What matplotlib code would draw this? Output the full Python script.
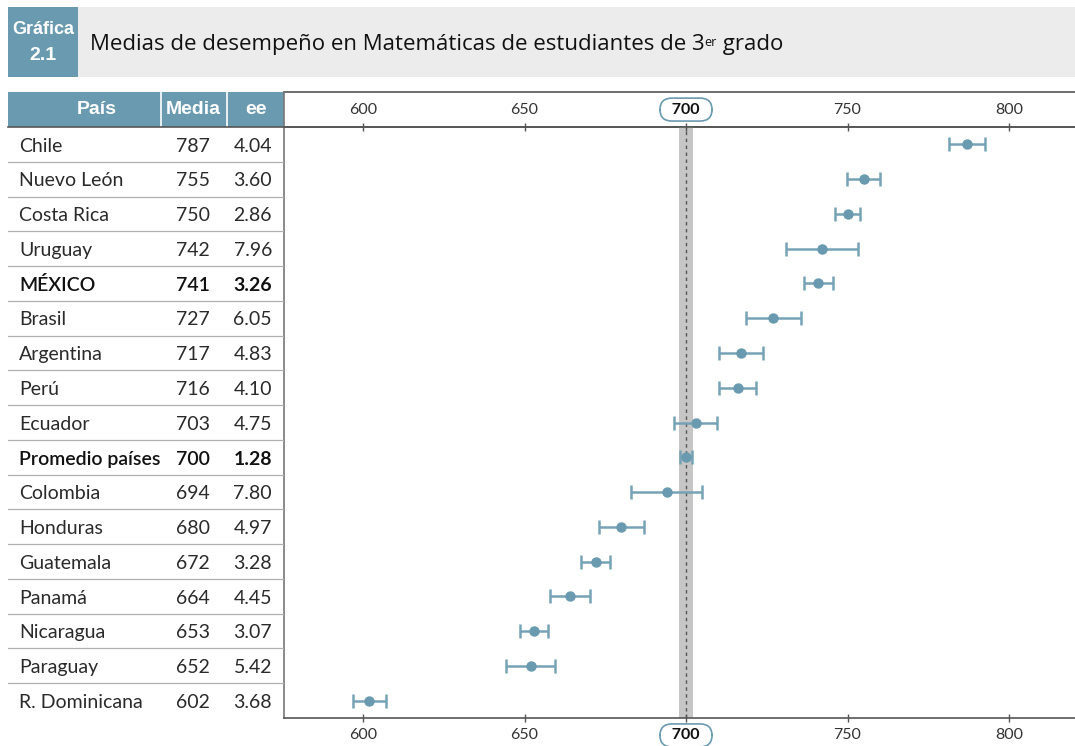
import matplotlib
matplotlib.use("Agg")
import matplotlib.pyplot as plt
from matplotlib.patches import Rectangle
import numpy as np

# data
paises = ["Chile", "Nuevo León", "Costa Rica", "Uruguay", "MÉXICO", "Brasil",
          "Argentina", "Perú", "Ecuador", "Promedio países", "Colombia",
          "Honduras", "Guatemala", "Panamá", "Nicaragua", "Paraguay",
          "R. Dominicana"]
medias = [787, 755, 750, 742, 741, 727, 717, 716, 703, 700, 694, 680, 672,
          664, 653, 652, 602]
ee = [4.04, 3.60, 2.86, 7.96, 3.26, 6.05, 4.83, 4.10, 4.75, 1.28, 7.80,
      4.97, 3.28, 4.45, 3.07, 5.42, 3.68]
bold_rows = ["MÉXICO", "Promedio países"]
ticks = [600, 650, 700, 750, 800]
ref_value = 700
ref_band = (697.8, 702.2)
ci_factor = 1.4  # error bars drawn in the chart are about +-1.4 ee

BLUE = "#6a9ab0"
W, H = 1075, 746
TXT_FONT = ["Lato", "DejaVu Sans"]
HEAD_FONT = ["Liberation Sans", "DejaVu Sans"]
TITLE_FONT = ["Open Sans", "DejaVu Sans"]

fig = plt.figure(figsize=(W / 100, H / 100), dpi=100)

# overlay in pixel coords for header decorations
over = fig.add_axes([0, 0, 1, 1], zorder=0)
over.set_xlim(0, W)
over.set_ylim(H, 0)
over.axis("off")

over.add_patch(Rectangle((8, 7), W - 8, 70, color="#ececec", lw=0))
over.add_patch(Rectangle((8, 7), 70, 70, color=BLUE, lw=0))
over.text(43, 29, "Gráfica", color="white", fontsize=13, fontweight="bold",
          family=HEAD_FONT, ha="center", va="center")
over.text(43, 55, "2.1", color="white", fontsize=14, fontweight="bold",
          family=HEAD_FONT, ha="center", va="center")

t1 = over.text(90, 55, "Medias de desempeño en Matemáticas de estudiantes de 3",
               fontsize=16, family=TITLE_FONT, va="bottom", ha="left", color="#111")
t2 = over.annotate("er", xy=(1, 0.9), xycoords=t1, fontsize=9, family=TITLE_FONT,
                   va="top", ha="left", color="#111")
over.annotate(" grado", xy=(1, 0), xycoords=(t2, t1), fontsize=16, family=TITLE_FONT,
              va="bottom", ha="left", color="#111")

# table header
over.add_patch(Rectangle((8, 92), 276, 35, color=BLUE, lw=0))
for xs in (161, 227):
    over.plot([xs, xs], [92, 127], color="white", lw=1.2)
for label, xc in [("País", 97), ("Media", 193), ("ee", 256)]:
    over.text(xc, 110, label, color="white", fontsize=14, fontweight="bold",
              family=HEAD_FONT, ha="center", va="center")
over.plot([284, W], [92, 92], color="#555555", lw=1.2)
over.plot([8, W], [127, 127], color="#555555", lw=1.2)
over.plot([284, 284], [92, 718], color="#777777", lw=1.2)

n = len(paises)
rows = np.arange(n)
top_px, bot_px = 127, 718
ax_rect_y = (H - bot_px) / H
ax_rect_h = (bot_px - top_px) / H

# table axes
tab = fig.add_axes([8 / W, ax_rect_y, 276 / W, ax_rect_h], zorder=1)
tab.set_xlim(0, 276)
tab.set_ylim(n - 0.5, -0.5)
tab.axis("off")
for i in range(n - 1):
    tab.axhline(i + 0.5, color="#b0b0b0", lw=0.9)
for i, (p, m, e) in enumerate(zip(paises, medias, ee)):
    strong = p in bold_rows
    w = "semibold" if strong else "normal"
    col = "#111111" if strong else "#2a2a2a"
    tab.text(11, i + 0.05, p, fontsize=14, family=TXT_FONT, fontweight=w,
             va="center", ha="left", color=col)
    tab.text(202, i + 0.05, f"{m}", fontsize=14, family=TXT_FONT, fontweight=w,
             va="center", ha="right", color=col)
    tab.text(264, i + 0.05, f"{e:.2f}", fontsize=14, family=TXT_FONT,
             fontweight="bold" if strong else "normal",
             va="center", ha="right", color=col)

# plot axes
px600, px800 = 363, 1009
scale = (px800 - px600) / (ticks[-1] - ticks[0])
x0 = ticks[0] - (px600 - 284) / scale
x1 = ticks[0] + (W - px600) / scale
ax = fig.add_axes([284 / W, ax_rect_y, (W - 284) / W, ax_rect_h], zorder=2)
ax.patch.set_alpha(0)
ax.set_xlim(x0, x1)
ax.set_ylim(n - 0.5, -0.5)

ax.axvspan(ref_band[0], ref_band[1], color="#c6c6c6", lw=0, zorder=1)
ax.axvline(ref_value, color="#555555", lw=1, ls=(0, (2.5, 2.5)), zorder=2)

err = np.array(ee) * ci_factor
ax.errorbar(medias, rows, xerr=err, fmt="o", color=BLUE, ecolor="#75a2b6",
            elinewidth=1.8, capsize=5, capthick=1.8, markersize=6.5, zorder=3)

for s in ["left", "right"]:
    ax.spines[s].set_visible(False)
for s in ["top", "bottom"]:
    ax.spines[s].set_color("#555555")
    ax.spines[s].set_linewidth(1.2)
ax.set_yticks([])
tick_labels = [f"  {t}  " if t == ref_value else f"{t}" for t in ticks]
ax.set_xticks(ticks, labels=tick_labels)
ax.tick_params(axis="x", top=True, labeltop=True, bottom=True, labelbottom=True,
               direction="inout", length=6, width=1, color="#555555",
               labelsize=11.5, pad=4.5, labelcolor="#333333")

for tk in ax.xaxis.get_major_ticks():
    for lab in (tk.label1, tk.label2):
        lab.set_family(TXT_FONT)
        if tk.get_loc() == ref_value:
            lab.set_fontweight("bold")
            lab.set_color("#111111")
            lab.set_bbox(dict(boxstyle="round,pad=0.28,rounding_size=0.75",
                              fc="white", ec=BLUE, lw=1.2))

fig.savefig("out.png", dpi=100)
